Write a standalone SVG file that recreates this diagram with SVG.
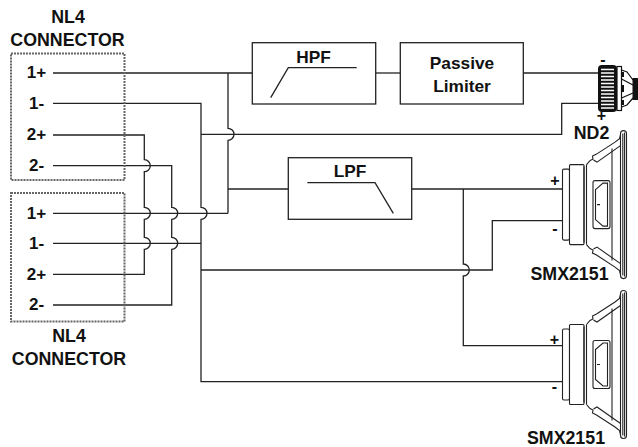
<svg xmlns="http://www.w3.org/2000/svg" width="638" height="447" viewBox="0 0 638 447">
<style>
text{font-family:"Liberation Sans",Arial,sans-serif;font-weight:bold;fill:#111}
.t17{font-size:17.8px;text-anchor:middle}
.pin{font-size:17px;text-anchor:middle}
.sgn{font-size:16px;text-anchor:middle}
.lbl{font-size:17.3px;text-anchor:middle}
.w{fill:none;stroke:#222;stroke-width:1.3}
.box{fill:#fff;stroke:#222;stroke-width:1.3}
.dash{fill:none;stroke:#666;stroke-width:2;stroke-dasharray:2 1}
.sp{fill:none;stroke:#222;stroke-width:1.1}
.spf{fill:#fff;stroke:#222;stroke-width:1.1}
</style>
<defs>
<g id="woofer">
 <rect class="spf" x="562.5" y="-35.5" width="7" height="71" rx="1.5"/>
 <rect class="spf" x="569.5" y="-40" width="14.5" height="80" rx="1"/>
 <path class="sp" d="M584,-38 V38 M586.5,-40 V40"/>
 <path class="sp" d="M586.5,-40 L590,-44 L593,-45.5 L592.5,-48.5 L596.5,-50.5 L615,-62.5 L619.5,-66 L621,-72"/>
 <path class="sp" d="M586.5,40 L590,44 L593,45.5 L592.5,48.5 L596.5,50.5 L615,62.5 L619.5,66 L621,72"/>
 <path class="sp" d="M593.5,-44.5 L597,-42.5 L620.5,-59 M593.5,44.5 L597,42.5 L620.5,59"/>
 <path class="sp" d="M612,-56 V56"/>
 <rect class="spf" x="620.5" y="-74" width="6" height="148" rx="3"/>
 <path class="sp" d="M622.8,-71 V71 M624.6,-72 V72" stroke-width="1.4"/>
 <path class="sp" d="M593,-22 Q593,-24 595,-24 H608 Q610,-24 610,-22 V22 Q610,24 608,24 H595 Q593,24 593,22 Z"/>
 <path class="sp" d="M595.5,-15 L603,-21.5 H607.5 V21.5 H603 L595.5,15 Z M597,0 H600"/>
</g>
</defs>

<g id="connectors">
 <path class="w" d="M53,73 H252"/>
 <path class="w" d="M375.7,73 H400.3"/>
 <path class="w" d="M523.3,73 H598"/>
 <path class="w" d="M53,103.3 H201 V207.3 A6,6 0 0 1 201,219.3 V381.7 H562"/>
 <path class="w" d="M201,134.3 H561.7 V103.3 H598"/>
 <path class="w" d="M228,73 V128.3 A6,6 0 0 1 228,140.3 V213.3"/>
 <path class="w" d="M228,189 H288.3"/>
 <path class="w" d="M411.7,189 H563"/>
 <path class="w" d="M463.3,189 V264 A6,6 0 0 1 463.3,276 V345.7 H562"/>
 <path class="w" d="M201,270 H492.3 V220.7 H563"/>
 <path class="w" d="M53,135 H144.3 V159.7 A6,6 0 0 1 144.3,171.7 V207.3 A6,6 0 0 1 144.3,219.3 V237.3 A6,6 0 0 1 144.3,249.3 V274.3 H53"/>
 <path class="w" d="M53,165.7 H171.7 V207.3 A6,6 0 0 1 171.7,219.3 V237.3 A6,6 0 0 1 171.7,249.3 V305 H53"/>
 <path class="w" d="M53,213.3 H228"/>
 <path class="w" d="M53,243.3 H201"/>
</g>

<g id="nl4-top">
 <text class="t17" x="68" y="23">NL4</text>
 <text class="t17" x="67.5" y="45.5">CONNECTOR</text>
 <rect class="dash" x="11" y="53.5" width="113.5" height="126.5"/>
 <text class="pin" x="36.5" y="78">1+</text>
 <text class="pin" x="36.5" y="108.5">1-</text>
 <text class="pin" x="36.5" y="140">2+</text>
 <text class="pin" x="36.5" y="171">2-</text>
</g>

<g id="nl4-bottom">
 <rect class="dash" x="11" y="193" width="113.5" height="128.5"/>
 <text class="pin" x="36.5" y="218.5">1+</text>
 <text class="pin" x="36.5" y="248.5">1-</text>
 <text class="pin" x="36.5" y="279.5">2+</text>
 <text class="pin" x="36.5" y="310">2-</text>
 <text class="t17" x="69" y="341.5">NL4</text>
 <text class="t17" x="69" y="365">CONNECTOR</text>
</g>

<g id="hpf">
 <rect class="box" x="252.3" y="42.7" width="123.4" height="61.3"/>
 <text class="lbl" x="313.5" y="62.7">HPF</text>
 <path class="w" d="M270.7,97.7 L288.3,67.7 H356.7"/>
</g>

<g id="limiter">
 <rect class="box" x="400.3" y="42.7" width="123" height="61.3"/>
 <text class="lbl" x="462" y="69.3">Passive</text>
 <text class="lbl" x="462" y="91.7">Limiter</text>
</g>

<g id="lpf">
 <rect class="box" x="288.3" y="157.7" width="123.4" height="61.6"/>
 <text class="lbl" x="350" y="176.7">LPF</text>
 <path class="w" d="M307.3,182.7 H375 L393.3,213.3"/>
</g>

<g id="nd2">
 <rect x="598" y="65" width="19" height="47" rx="4" fill="#111"/>
 <path d="M601,69.5 H614 M601,73 H614 M601,76.5 H614 M601,80 H614 M601,83.5 H614 M601,87 H614 M601,90.5 H614 M601,94 H614 M601,97.5 H614 M601,101 H614 M601,104.5 H614 M601,108 H614" stroke="#fff" stroke-width="1.3"/>
 <rect x="617" y="66.5" width="4.5" height="44" fill="#fff" stroke="#111" stroke-width="1.2"/>
 <path d="M621.5,70 L627,72 L633,80 M621.5,107 L627,105 L633,98 M621.5,79 L633,85 M621.5,98 L633,93" fill="none" stroke="#111" stroke-width="1.2"/>
 <rect x="621.5" y="72" width="2.5" height="5" fill="#111"/>
 <rect x="621.5" y="85" width="2.5" height="7" fill="#111"/>
 <rect x="621.5" y="100" width="2.5" height="5" fill="#111"/>
 <rect x="632.5" y="78" width="5.5" height="22" fill="#111"/>
 <text class="sgn" x="603" y="64.5">-</text>
 <text class="sgn" x="601.5" y="120.5">+</text>
 <text class="t17" x="591.5" y="139">ND2</text>
</g>

<g id="smx-top">
 <use href="#woofer" y="204.6"/>
 <text class="sgn" x="555" y="186">+</text>
 <text class="sgn" x="555" y="233.5">-</text>
 <text class="t17" x="569.5" y="279.5">SMX2151</text>
</g>

<g id="smx-bottom">
 <use href="#woofer" y="364.5"/>
 <text class="sgn" x="554.5" y="344.5">+</text>
 <text class="sgn" x="554.5" y="392">-</text>
 <text class="t17" x="566" y="443.5">SMX2151</text>
</g>
</svg>
